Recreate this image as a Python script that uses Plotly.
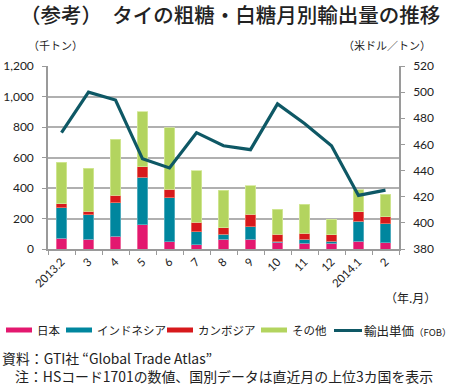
import plotly.graph_objects as go

months = ["2013.2", "3", "4", "5", "6", "7", "8", "9", "10", "11", "12", "2014.1", "2"]
japan = [70, 63, 83, 160, 48, 28, 63, 63, 44, 37, 37, 50, 41]
indonesia = [200, 162, 221, 312, 289, 86, 33, 83, 4, 26, 15, 131, 125]
cambodia = [26, 24, 50, 66, 54, 61, 44, 83, 50, 40, 42, 62, 44]
others = [273, 280, 365, 362, 405, 339, 245, 186, 162, 192, 101, 144, 149]
price = [469, 500, 494, 449, 442, 469, 459, 456, 491, 476, 459, 421, 425]

left_ticks = [0, 200, 400, 600, 800, 1000, 1200]
left_labels = ["0", "200", "400", "600", "800", "1,000", "1,200"]
grid_vals = [200, 400, 600, 800, 1000]
right_ticks = [380, 400, 420, 440, 460, 480, 500, 520]

series_names = ["日本", "インドネシア", "カンボジア", "その他"]
series_vals = [japan, indonesia, cambodia, others]
series_cols = ["#e3186f", "#00869e", "#d7191c", "#b3d45f"]
series_edges = ["#f07aa8", "#5fb3c3", "#ec7a6c", "#d4e89a"]
line_name = "輸出単価"
line_color = "#0e5865"
CJK = "Noto Sans CJK JP"
NUM = "Lato"

# plot-area frame in pixels
W, H = 450, 385
L, R, T, B = 48, 399, 66, 249


def px(x):
    return (x - L) / (R - L)


def py(y):
    return (B - y) / (B - T)


fig = go.Figure()
for name, vals, col, edge in zip(series_names, series_vals, series_cols, series_edges):
    fig.add_trace(go.Bar(
        x=months, y=vals, name=name, showlegend=False,
        marker=dict(color=col, line=dict(color=edge, width=0.8)),
        width=0.4, yaxis="y",
    ))
fig.add_trace(go.Scatter(
    x=months, y=price, name=line_name, mode="lines", showlegend=False,
    line=dict(color=line_color, width=3.2), yaxis="y2",
))
# ghost trace to activate grid axis
fig.add_trace(go.Scatter(x=[months[0]], y=[None], yaxis="y3", showlegend=False, hoverinfo="skip"))

axis_gray = "#9a9a9a"
fig.update_layout(
    width=W, height=H,
    margin=dict(l=L, r=W - R, t=T, b=H - B, autoexpand=False),
    paper_bgcolor="white", plot_bgcolor="white",
    barmode="stack", showlegend=False,
    font=dict(family=CJK, size=12, color="#222222"),
    xaxis=dict(
        type="category", range=[-0.5, 12.5], automargin=False,
        showline=True, linecolor=axis_gray, linewidth=1.5,
        ticks="outside", tickson="boundaries", ticklen=4, tickcolor=axis_gray,
        tickangle=-45, tickfont=dict(family=NUM, size=11.5, color="#222222"),
        showgrid=False,
    ),
    yaxis=dict(
        range=[0, 1200], tickvals=left_ticks, ticktext=left_labels, automargin=False,
        showline=True, linecolor=axis_gray, linewidth=1.5,
        ticks="outside", ticklen=4, tickcolor=axis_gray,
        showgrid=False, zeroline=False,
        tickfont=dict(family=NUM, size=12, color="#222222"),
        ticklabelstandoff=6,
    ),
    yaxis3=dict(
        range=[0, 1200], overlaying="y", tickvals=grid_vals, automargin=False,
        showticklabels=False, ticks="", showgrid=True,
        gridcolor="#b0b0b0", gridwidth=1.5, zeroline=False, showline=False,
    ),
    yaxis2=dict(
        range=[380, 520], tickvals=right_ticks, overlaying="y", side="right", automargin=False,
        showline=True, linecolor=axis_gray, linewidth=1.5,
        ticks="outside", ticklen=4, tickcolor=axis_gray,
        showgrid=False, zeroline=False,
        tickfont=dict(family=NUM, size=12, color="#222222"),
        ticklabelstandoff=6,
    ),
)

annots = []
# hand-built legend row (flat wide keys as in the reference)
leg_y = 330
key_x = [6, 66, 167, 261]
for kx, col, name in zip(key_x, series_cols, series_names):
    fig.add_shape(type="rect", xref="paper", yref="paper",
                  x0=px(kx), x1=px(kx + 26), y0=py(leg_y + 2.5), y1=py(leg_y - 2.5),
                  fillcolor=col, line=dict(width=0), layer="above")
    annots.append(dict(text=name, x=px(kx + 29), y=py(leg_y),
                       xanchor="left", yanchor="middle", font=dict(size=11.5)))
fig.add_shape(type="line", xref="paper", yref="paper",
              x0=px(334), x1=px(362), y0=py(leg_y + 0.5), y1=py(leg_y + 0.5),
              line=dict(color=line_color, width=3))
annots.append(dict(text=line_name + "<span style='font-size:9.5px'>（FOB）</span>",
                   x=px(362), y=py(leg_y), xanchor="left", yanchor="middle", font=dict(size=12.5)))

annots += [
    dict(text="（参考）　タイの粗糖・白糖月別輸出量の推移", x=px(229.5), y=py(14),
         xanchor="center", yanchor="middle",
         font=dict(size=20.5, family=CJK, color="#222222", weight=500)),
    dict(text="（千トン）", x=px(26), y=py(45), xanchor="left", yanchor="middle", font=dict(size=11)),
    dict(text="（米ドル／トン）", x=px(433), y=py(45), xanchor="right", yanchor="middle", font=dict(size=11)),
    dict(text="（年.月）", x=px(438), y=py(297), xanchor="right", yanchor="middle", font=dict(size=12)),
    dict(text="資料：GTI社 “Global Trade Atlas”", x=px(0), y=py(358),
         xanchor="left", yanchor="middle", font=dict(size=13.9)),
    dict(text="注：HSコード1701の数値、国別データは直近月の上位3カ国を表示", x=px(13), y=py(376),
         xanchor="left", yanchor="middle", font=dict(size=13.9)),
]
for a in annots:
    a["showarrow"] = False
    a["xref"] = "paper"
    a["yref"] = "paper"
    fig.add_annotation(**a)

fig.write_html("out.html", config={"displayModeBar": False},
               post_script="document.body.style.margin='0';")
